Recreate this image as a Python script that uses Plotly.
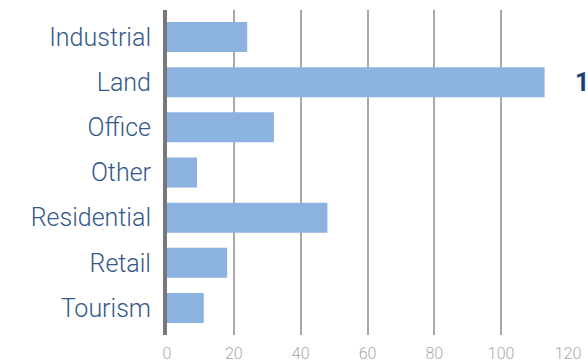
import plotly.graph_objects as go

categories = ["Industrial", "Land", "Office", "Other", "Residential", "Retail", "Tourism"]
values = [24, 113, 32, 9, 48, 18, 11]
highlight = "Land"
x_ticks = [0, 20, 40, 60, 80, 100, 120]

fig = go.Figure()
fig.add_trace(go.Bar(
    y=categories, x=values, orientation="h",
    marker=dict(color="#8CB2DF", line=dict(width=0)),
    hoverinfo="skip",
))

for c, v in zip(categories, values):
    hl = c == highlight
    fig.add_annotation(
        x=1.129, y=c, xref="paper", yref="y", text=f"<b>{v}</b>" if hl else str(v),
        showarrow=False, xanchor="right", yanchor="middle",
        font=dict(family="Roboto", size=25, color="#1B3F70" if hl else "#A9B6C8"),
    )

fig.update_layout(
    width=588, height=363,
    margin=dict(l=167, r=20, t=10, b=28),
    paper_bgcolor="white", plot_bgcolor="white",
    bargap=0.335, showlegend=False,
    font=dict(family="Roboto"),
)
fig.update_xaxes(
    range=[0, 120], tickvals=x_ticks, ticktext=[str(t) for t in x_ticks],
    showgrid=True, gridcolor="#A8A8A8", gridwidth=1.5,
    zeroline=False, showline=False, ticks="", ticklabelstandoff=7,
    automargin=False,
    tickfont=dict(family="Roboto", size=16, color="#AAAAAA", weight=300),
)
fig.update_yaxes(
    categoryorder="array", categoryarray=categories,
    range=[6.6, -0.6], showgrid=False, zeroline=False,
    showline=True, linecolor="#78787A", linewidth=4,
    ticks="", ticklabelstandoff=7, automargin=False,
    tickfont=dict(family="Roboto", size=25, color="#35588A", weight=300),
)

fig.write_html("out.html")
